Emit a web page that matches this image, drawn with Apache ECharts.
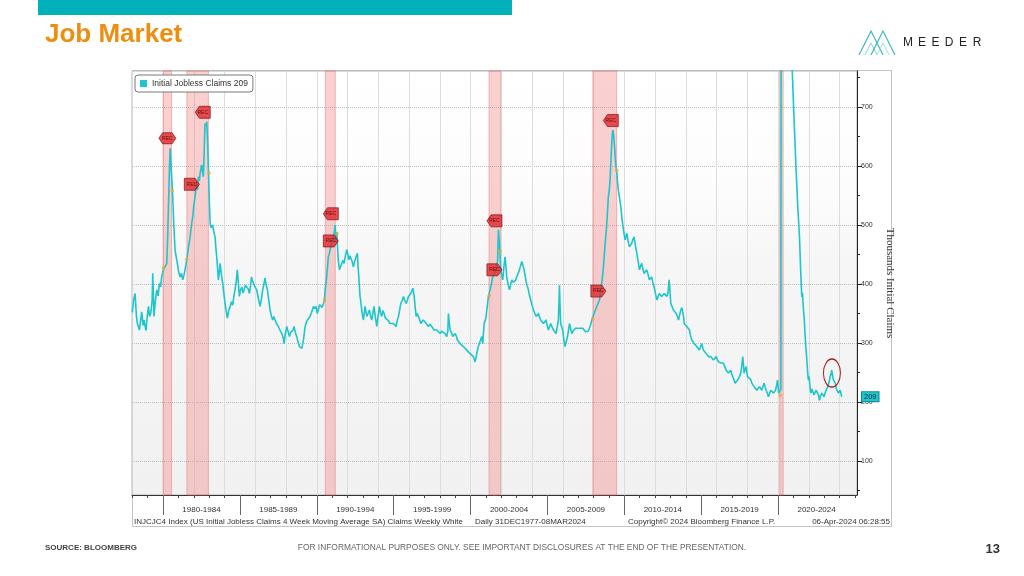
<!DOCTYPE html>
<html>
<head>
<meta charset="utf-8">
<script src="https://cdn.jsdelivr.net/npm/echarts@6/dist/echarts.min.js"></script>
<style>
html,body{margin:0;padding:0;background:#fff;}
#chart{width:1024px;height:576px;}
</style>
</head>
<body>
<div id="chart"></div>
<script>
// ---------------- DATA ----------------
const seriesName = 'Initial Jobless Claims 209';
const lastValue = 209;
// weekly 4-week moving average, thousands
const claimsSeries = [
[1978.00,352],[1978.08,372],[1978.18,384],[1978.27,345],[1978.33,333],[1978.46,322],[1978.55,340],[1978.61,353],[1978.70,330],[1978.76,339],[1978.89,321],[1978.97,345],
[1979.05,362],[1979.12,345],[1979.20,350],[1979.29,372],[1979.33,418],[1979.41,345],[1979.50,372],[1979.59,390],[1979.68,380],[1979.76,401],[1979.84,395],[1979.91,412],
[1980.02,424],[1980.13,421],[1980.24,435],[1980.30,480],[1980.35,531],[1980.42,600],[1980.46,630],[1980.52,600],[1980.61,559],[1980.70,500],[1980.78,458],[1980.86,445],[1980.93,435],
[1981.02,420],[1981.11,412],[1981.20,418],[1981.28,407],[1981.36,415],[1981.43,424],[1981.54,441],[1981.65,462],[1981.76,480],[1981.85,500],[1981.93,514],
[1982.01,535],[1982.08,548],[1982.13,560],[1982.19,571],[1982.25,560],[1982.30,582],[1982.36,575],[1982.41,588],[1982.47,596],[1982.51,602],[1982.57,590],[1982.62,582],[1982.68,630],[1982.73,672],[1982.79,668],[1982.84,675],[1982.90,640],[1982.95,593],
[1983.01,540],[1983.06,503],[1983.12,495],[1983.17,492],[1983.22,500],[1983.27,497],[1983.33,485],[1983.38,480],[1983.44,460],[1983.49,446],[1983.55,425],[1983.60,407],[1983.66,420],[1983.71,435],[1983.80,415],[1983.88,401],[1983.95,385],
[1984.03,367],[1984.10,355],[1984.18,342],[1984.27,355],[1984.36,362],[1984.45,370],[1984.53,364],[1984.60,378],[1984.68,390],[1984.76,405],[1984.83,424],[1984.90,400],[1984.96,379],
[1985.04,390],[1985.12,395],[1985.20,385],[1985.27,390],[1985.35,398],[1985.44,401],[1985.53,392],[1985.62,384],[1985.69,398],[1985.75,412],[1985.82,405],[1985.88,401],[1985.98,395],
[1986.09,390],[1986.20,375],[1986.31,362],[1986.40,375],[1986.48,390],[1986.56,400],[1986.63,410],[1986.71,398],[1986.79,390],[1986.88,372],[1986.96,356],
[1987.05,345],[1987.13,339],[1987.20,345],[1987.28,339],[1987.40,332],[1987.50,328],[1987.60,322],[1987.72,316],[1987.80,310],[1987.87,299],[1987.95,315],
[1988.04,328],[1988.13,320],[1988.22,311],[1988.30,318],[1988.37,316],[1988.45,322],[1988.52,328],[1988.60,318],[1988.69,311],[1988.78,302],[1988.87,294],[1988.95,292],
[1989.02,291],[1989.08,298],[1989.13,305],[1989.19,318],[1989.24,328],[1989.32,335],[1989.39,339],[1989.47,342],[1989.56,345],[1989.66,352],[1989.78,362],[1989.86,358],[1989.95,362],
[1990.03,350],[1990.10,356],[1990.18,365],[1990.25,362],[1990.34,360],[1990.43,367],[1990.49,372],[1990.54,390],[1990.59,400],[1990.64,412],[1990.70,430],[1990.75,446],[1990.80,450],[1990.86,458],[1990.92,465],[1990.97,469],
[1991.03,470],[1991.08,480],[1991.14,488],[1991.19,500],[1991.25,475],[1991.30,488],[1991.38,445],[1991.47,424],[1991.55,430],[1991.62,429],[1991.70,440],[1991.77,435],[1991.86,448],[1991.95,458],
[1992.02,450],[1992.08,441],[1992.15,448],[1992.21,446],[1992.30,438],[1992.38,429],[1992.46,438],[1992.55,446],[1992.60,448],[1992.64,452],[1992.68,430],[1992.73,412],[1992.77,395],[1992.81,379],[1992.87,368],[1992.92,356],[1992.98,345],
[1993.03,339],[1993.08,350],[1993.14,362],[1993.20,352],[1993.25,345],[1993.33,350],[1993.42,356],[1993.50,345],[1993.57,339],[1993.64,350],[1993.72,362],[1993.80,345],[1993.90,328],[1993.98,345],
[1994.07,362],[1994.15,350],[1994.22,345],[1994.30,355],[1994.37,350],[1994.46,342],[1994.55,345],[1994.65,338],[1994.76,333],[1994.87,336],[1994.98,333],
[1995.06,330],[1995.15,328],[1995.23,338],[1995.31,345],[1995.38,355],[1995.46,367],[1995.55,372],[1995.63,379],[1995.72,372],[1995.81,367],[1995.88,372],[1995.96,379],
[1996.04,376],[1996.11,384],[1996.18,388],[1996.24,393],[1996.30,385],[1996.33,379],[1996.40,360],[1996.46,345],[1996.53,350],[1996.61,345],[1996.68,340],[1996.76,333],[1996.85,336],[1996.93,339],
[1997.02,336],[1997.11,333],[1997.18,330],[1997.26,328],[1997.36,332],[1997.47,328],[1997.55,325],[1997.63,322],[1997.72,320],[1997.80,322],[1997.90,320],
[1998.02,316],[1998.12,320],[1998.23,322],[1998.34,316],[1998.45,311],[1998.52,320],[1998.56,350],[1998.61,335],[1998.67,322],[1998.75,318],[1998.84,311],[1998.92,314],[1998.99,316],
[1999.07,312],[1999.14,305],[1999.23,302],[1999.32,299],[1999.42,296],[1999.53,294],[1999.64,291],[1999.75,288],[1999.86,285],[1999.97,282],
[2000.08,280],[2000.18,277],[2000.24,272],[2000.29,268],[2000.35,275],[2000.40,282],[2000.48,292],[2000.57,299],[2000.65,305],[2000.73,311],[2000.79,299],[2000.84,318],[2000.88,333],[2000.95,338],
[2001.01,345],[2001.08,362],[2001.16,379],[2001.22,385],[2001.27,390],[2001.35,400],[2001.44,412],[2001.52,418],[2001.59,421],[2001.65,423],[2001.70,424],[2001.76,440],[2001.81,492],[2001.88,469],[2001.96,424],
[2002.03,415],[2002.09,407],[2002.17,430],[2002.24,446],[2002.30,430],[2002.35,412],[2002.45,398],[2002.53,390],[2002.60,398],[2002.68,407],[2002.76,403],[2002.83,401],[2002.92,406],
[2003.00,412],[2003.09,418],[2003.18,424],[2003.26,432],[2003.33,438],[2003.40,432],[2003.48,424],[2003.55,414],[2003.61,404],[2003.68,397],[2003.76,390],[2003.84,380],[2003.91,373],
[2004.00,364],[2004.09,356],[2004.18,350],[2004.26,345],[2004.33,348],[2004.41,350],[2004.48,344],[2004.56,339],[2004.65,336],[2004.74,333],[2004.83,336],[2004.91,339],[2004.98,330],
[2005.06,322],[2005.14,328],[2005.21,333],[2005.30,327],[2005.39,322],[2005.48,319],[2005.56,316],[2005.64,328],[2005.71,339],[2005.75,370],[2005.78,398],[2005.82,360],[2005.86,333],[2005.92,328],[2005.99,322],
[2006.07,305],[2006.14,294],[2006.22,302],[2006.30,311],[2006.37,322],[2006.43,333],[2006.50,325],[2006.58,316],[2006.66,320],[2006.73,322],[2006.82,325],[2006.90,328],[2006.99,325],
[2007.08,322],[2007.16,325],[2007.23,328],[2007.30,325],[2007.38,322],[2007.47,319],[2007.56,316],[2007.65,320],[2007.73,322],[2007.80,330],[2007.88,339],[2007.96,345],
[2008.03,350],[2008.12,356],[2008.21,362],[2008.30,368],[2008.38,373],[2008.46,388],[2008.53,401],[2008.59,415],[2008.64,429],[2008.70,450],[2008.75,469],[2008.81,485],[2008.86,503],[2008.91,525],[2008.96,548],
[2009.02,560],[2009.07,576],[2009.12,605],[2009.18,638],[2009.22,655],[2009.25,661],[2009.29,655],[2009.33,644],[2009.37,630],[2009.40,616],[2009.45,600],[2009.51,588],[2009.56,572],[2009.61,559],[2009.69,545],[2009.77,531],[2009.85,510],[2009.94,492],
[2010.00,482],[2010.05,475],[2010.10,480],[2010.16,486],[2010.25,472],[2010.33,463],[2010.40,466],[2010.48,469],[2010.55,475],[2010.63,480],[2010.72,465],[2010.81,452],[2010.90,438],[2010.98,424],
[2011.05,430],[2011.13,435],[2011.20,426],[2011.28,418],[2011.37,420],[2011.46,424],[2011.55,415],[2011.63,407],[2011.70,410],[2011.78,412],[2011.85,403],[2011.93,395],
[2012.02,384],[2012.11,373],[2012.20,379],[2012.28,384],[2012.35,382],[2012.43,379],[2012.51,382],[2012.59,384],[2012.68,381],[2012.76,379],[2012.84,385],[2012.91,407],[2012.96,390],
[2013.02,367],[2013.10,362],[2013.19,356],[2013.28,353],[2013.37,350],[2013.45,345],[2013.52,339],[2013.60,348],[2013.67,356],[2013.74,360],[2013.80,362],[2013.85,345],[2013.89,333],[2013.97,330],
[2014.06,328],[2014.15,325],[2014.23,322],[2014.31,312],[2014.39,305],[2014.47,302],[2014.54,299],[2014.62,297],[2014.71,294],[2014.80,291],[2014.88,288],[2014.96,294],
[2015.04,299],[2015.09,293],[2015.14,288],[2015.23,285],[2015.32,282],[2015.40,279],[2015.47,277],[2015.55,276],[2015.62,277],[2015.70,274],[2015.79,271],[2015.88,274],[2015.97,277],
[2016.05,272],[2016.12,268],[2016.20,267],[2016.27,266],[2016.35,268],[2016.44,266],[2016.53,260],[2016.62,254],[2016.70,251],[2016.77,249],[2016.85,252],[2016.92,254],[2016.98,248],
[2017.05,243],[2017.12,238],[2017.20,232],[2017.28,235],[2017.36,237],[2017.42,240],[2017.48,243],[2017.57,249],[2017.64,262],[2017.70,277],[2017.75,262],[2017.79,249],[2017.86,255],[2017.92,260],[2017.97,250],
[2018.01,243],[2018.08,244],[2018.14,243],[2018.22,238],[2018.29,232],[2018.37,229],[2018.44,226],[2018.52,223],[2018.61,220],[2018.70,223],[2018.79,226],[2018.86,223],[2018.94,220],
[2019.01,226],[2019.09,232],[2019.15,226],[2019.22,220],[2019.30,215],[2019.37,209],[2019.45,215],[2019.52,220],[2019.61,217],[2019.70,215],[2019.77,218],[2019.83,220],[2019.90,228],[2019.96,237],
[2020.00,226],[2020.04,215],[2020.09,213],[2020.13,212],[2020.18,222],[2020.20,1000],[2020.22,2650],[2020.24,4260],[2020.35,3500],[2020.45,2200],[2020.58,1450],[2020.72,1020],[2020.84,830],[2020.92,760],
[2021.05,670],[2021.17,593],[2021.28,530],[2021.39,480],[2021.47,420],[2021.54,378],[2021.58,385],[2021.65,356],[2021.70,340],[2021.76,310],[2021.81,290],[2021.87,271],[2021.92,250],[2021.97,237],
[2022.02,243],[2022.07,225],[2022.13,215],[2022.20,222],[2022.26,220],[2022.33,212],[2022.41,215],[2022.48,220],[2022.56,223],[2022.62,212],[2022.69,203],[2022.76,210],[2022.84,215],[2022.91,212],[2022.99,209],
[2023.05,215],[2023.12,220],[2023.20,224],[2023.27,226],[2023.33,235],[2023.38,243],[2023.44,248],[2023.49,254],[2023.55,243],[2023.60,237],[2023.66,240],[2023.71,232],[2023.77,225],[2023.82,220],[2023.88,217],[2023.93,215],[2023.98,218],
[2024.03,220],[2024.09,214],[2024.14,209],[2024.18,209]
];
// recessions (NBER) as fractional years
const recessionStart = [1980.00, 1981.55, 1990.55, 2001.20, 2007.95, 2020.10];
const recessionEnd   = [1980.55, 1982.95, 1991.20, 2001.95, 2009.50, 2020.33];
// recession start/end points on the line
const turnYears  = [1980.02, 1980.60, 1981.54, 1982.99, 1990.49, 1991.32, 2001.22, 2001.92, 2007.95, 2009.51, 2020.13];
const turnValues = [427, 558, 442, 588, 372, 485, 380, 455, 341, 593, 212];
// REC event flags
const recFlagYears  = [1980.28, 1982.58, 1981.87, 1990.91, 1990.91, 2001.55, 2001.55, 2009.12, 2008.31];
const recFlagValues = [647, 691, 569, 519, 473, 507, 424, 677, 388];
const recFlagDir    = ['both', 'left', 'right', 'left', 'right', 'left', 'right', 'left', 'right'];
// circled highlight (2023 bump)
const highlightYear = 2023.5;
const highlightValue = 249;
// axes
const xMin = 1977.98, xMax = 2025.13;
const yMin = 42.4, yMax = 761.0;
const gridYears = [1980,1982,1984,1986,1988,1990,1992,1994,1996,1998,2000,2002,2004,2006,2008,2010,2012,2014,2016,2018,2020,2022,2024];
const yearTicks = [1978,1979,1980,1981,1982,1983,1984,1985,1986,1987,1988,1989,1990,1991,1992,1993,1994,1995,1996,1997,1998,1999,2000,2001,2002,2003,2004,2005,2006,2007,2008,2009,2010,2011,2012,2013,2014,2015,2016,2017,2018,2019,2020,2021,2022,2023,2024,2025];
const periodStarts = [1980,1985,1990,1995,2000,2005,2010,2015,2020];
const periodLabels = ['1980-1984','1985-1989','1990-1994','1995-1999','2000-2004','2005-2009','2010-2014','2015-2019','2020-2024'];
const yMajor = [100,200,300,400,500,600,700];
const yMinor = [50,150,250,350,450,550,650,750];

// ---------------- CHART ----------------
const chart = echarts.init(document.getElementById('chart'), null, {renderer:'canvas'});
const teal = '#1cc6cc';
const F = 'Liberation Sans';

const pathLeft  = 'path://M0,6 L5,0 L18,0 L18,12 L5,12 Z';
const pathRight = 'path://M0,0 L13,0 L18,6 L13,12 L0,12 Z';
const pathBoth  = 'path://M0,6 L4,0 L14,0 L18,6 L14,12 L4,12 Z';
const flagData = recFlagYears.map((y,i)=>({
  value:[y, recFlagValues[i]],
  symbol: recFlagDir[i]==='left'?pathLeft:(recFlagDir[i]==='right'?pathRight:pathBoth),
  symbolSize: recFlagDir[i]==='both'?[17,11]:[15,12]
}));
const periodCenters = periodStarts.map(s=>s+2.5);

const logoColor = '#3cb9c0';
const option = {
  animation:false,
  backgroundColor:'#ffffff',
  textStyle:{fontFamily:F},
  grid:{left:132,right:167,top:71,bottom:81,show:true,borderColor:'#b5b5b5',borderWidth:1,
    backgroundColor:{type:'linear',x:0,y:0,x2:0,y2:1,colorStops:[{offset:0,color:'#ffffff'},{offset:0.3,color:'#fcfcfc'},{offset:0.45,color:'#f6f6f6'},{offset:1,color:'#f1f1f1'}]},
    outerBoundsMode:'none'},
  legend:{data:[seriesName],left:135,top:75,orient:'horizontal',icon:'rect',itemWidth:7,itemHeight:7,itemGap:4,
    borderColor:'#7a7a7a',borderWidth:1,borderRadius:3,padding:[4,5,4,5],backgroundColor:'#ffffff',
    textStyle:{fontFamily:F,fontSize:8.5,color:'#333'}},
  xAxis:[
    {type:'value',min:xMin,max:xMax,position:'bottom',
      axisLine:{show:true,lineStyle:{color:'#333',width:1}},
      axisTick:{show:false,customValues:gridYears},
      splitLine:{show:true,lineStyle:{color:'#dddddd',width:1}},
      axisLabel:{customValues:periodCenters,margin:11,fontSize:8,color:'#333',fontFamily:F,
        formatter:(v)=>{const i=periodCenters.findIndex(c=>Math.abs(c-v)<0.01);return i>=0?periodLabels[i]:'';}}},
    {type:'value',min:xMin,max:xMax,position:'bottom',
      axisLine:{show:false},axisTick:{show:true,customValues:yearTicks,length:3,lineStyle:{color:'#444'}},
      axisLabel:{show:false},splitLine:{show:false}},
    {type:'value',min:xMin,max:xMax,position:'bottom',
      axisLine:{show:false},axisTick:{show:true,customValues:periodStarts,length:20,lineStyle:{color:'#666'}},
      axisLabel:{show:false},splitLine:{show:false}}
  ],
  yAxis:[
    {type:'value',min:yMin,max:yMax,position:'right',
      axisLine:{show:true,lineStyle:{color:'#222',width:1}},
      axisTick:{show:true,customValues:yMajor,length:5,lineStyle:{color:'#222'}},
      axisLabel:{customValues:yMajor,margin:4,fontSize:7,color:'#333',fontFamily:F},
      splitLine:{show:true,lineStyle:{type:'dotted',color:'#bdbdbd',width:1}},
      name:'Thousands Initial Claims',nameLocation:'middle',nameRotate:-90,nameGap:27,
      nameTextStyle:{fontFamily:'Liberation Serif',fontSize:11,color:'#333'}},
    {type:'value',min:yMin,max:yMax,position:'right',
      axisLine:{show:false},
      axisTick:{show:true,customValues:yMinor,length:3,lineStyle:{color:'#222'}},
      axisLabel:{customValues:[lastValue],margin:5,fontSize:7.5,color:'#102040',fontFamily:F,
        backgroundColor:teal,borderColor:'#0c8a90',borderWidth:1,padding:[1,2,0,2],
        formatter:(v)=>String(Math.round(v))},
      splitLine:{show:false}}
  ],
  series:[
    {name:seriesName,type:'line',xAxisIndex:0,yAxisIndex:0,data:claimsSeries,showSymbol:false,symbol:'none',
      clip:true,z:3,
      itemStyle:{color:teal},lineStyle:{color:teal,width:1.6},
      markArea:{silent:true,
        itemStyle:{color:'rgba(242,125,125,0.36)',borderColor:'rgba(228,105,105,0.42)',borderWidth:1},
        data:recessionStart.map((s,i)=>[{xAxis:s},{xAxis:recessionEnd[i]}])},
      markPoint:{silent:true,symbol:'circle',
        data:[{coord:[highlightYear,highlightValue],symbolSize:[17,28],
          itemStyle:{color:'rgba(0,0,0,0)',borderColor:'#a31a1a',borderWidth:1.2},label:{show:false}}]}
    },
    {name:'turns',type:'scatter',xAxisIndex:0,yAxisIndex:0,z:4,symbolSize:3.5,
      itemStyle:{color:'#f0a830'},
      data:turnYears.map((y,i)=>[y,turnValues[i]])},
    {name:'REC',type:'scatter',xAxisIndex:0,yAxisIndex:0,z:5,
      itemStyle:{color:'#e5262a',borderColor:'#6a0c0c',borderWidth:0.8},
      label:{show:true,position:'inside',formatter:'REC',fontSize:5,color:'#3a0505',fontFamily:F},
      data:flagData}
  ],
  graphic:[
    {type:'rect',shape:{x:38,y:0,width:474,height:15},style:{fill:'#00b1ba'},silent:true},
    {type:'text',x:45,y:35,style:{text:'Job Market',font:'bold 26px "Liberation Sans"',fill:'#ee8e10',textVerticalAlign:'middle'},silent:true},
    // logo
    {type:'polyline',shape:{points:[[859,55],[871,31],[883,55]]},style:{stroke:logoColor,lineWidth:1.2,fill:null},silent:true},
    {type:'polyline',shape:{points:[[865,55],[871,43],[877,55]]},style:{stroke:'#7fd3d8',lineWidth:1,fill:null},silent:true},
    {type:'polyline',shape:{points:[[871,55],[883,31],[895,55]]},style:{stroke:logoColor,lineWidth:1.2,fill:null},silent:true},
    {type:'polyline',shape:{points:[[877,55],[883,43],[889,55]]},style:{stroke:'#9fdde0',lineWidth:1,fill:null},silent:true},
    {type:'text',x:908,y:43,style:{text:'M',font:'12px "Liberation Sans"',fill:'#222',textAlign:'center',textVerticalAlign:'middle'},silent:true},
    {type:'text',x:922,y:43,style:{text:'E',font:'12px "Liberation Sans"',fill:'#222',textAlign:'center',textVerticalAlign:'middle'},silent:true},
    {type:'text',x:935.5,y:43,style:{text:'E',font:'12px "Liberation Sans"',fill:'#222',textAlign:'center',textVerticalAlign:'middle'},silent:true},
    {type:'text',x:949,y:43,style:{text:'D',font:'12px "Liberation Sans"',fill:'#222',textAlign:'center',textVerticalAlign:'middle'},silent:true},
    {type:'text',x:963,y:43,style:{text:'E',font:'12px "Liberation Sans"',fill:'#222',textAlign:'center',textVerticalAlign:'middle'},silent:true},
    {type:'text',x:977,y:43,style:{text:'R',font:'12px "Liberation Sans"',fill:'#222',textAlign:'center',textVerticalAlign:'middle'},silent:true},
    // outer chart border
    {type:'rect',shape:{x:132.5,y:70.5,width:759,height:456},style:{fill:null,stroke:'#c4c4c4',lineWidth:1},silent:true,z:-1},
    // info line
    {type:'text',x:134,y:522,style:{text:'INJCJC4 Index (US Initial Jobless Claims 4 Week Moving Average SA) Claims Weekly White',font:'8px "Liberation Sans"',fill:'#333',textVerticalAlign:'middle'},silent:true},
    {type:'text',x:475,y:522,style:{text:'Daily 31DEC1977-08MAR2024',font:'8px "Liberation Sans"',fill:'#333',textVerticalAlign:'middle'},silent:true},
    {type:'text',x:628,y:522,style:{text:'Copyright\u00A9 2024 Bloomberg Finance L.P.',font:'8px "Liberation Sans"',fill:'#333',textVerticalAlign:'middle'},silent:true},
    {type:'text',x:890,y:522,style:{text:'06-Apr-2024 06:28:55',font:'8px "Liberation Sans"',fill:'#333',textAlign:'right',textVerticalAlign:'middle'},silent:true},
    // footer
    {type:'text',x:45,y:548,style:{text:'SOURCE: BLOOMBERG',font:'bold 8px "Liberation Sans"',fill:'#444',textVerticalAlign:'middle'},silent:true},
    {type:'text',x:522,y:548,style:{text:'FOR INFORMATIONAL PURPOSES ONLY. SEE IMPORTANT DISCLOSURES AT THE END OF THE PRESENTATION.',font:'8.4px "Liberation Sans"',fill:'#666',textAlign:'center',textVerticalAlign:'middle'},silent:true},
    {type:'text',x:1000,y:549,style:{text:'13',font:'bold 13px "Liberation Sans"',fill:'#333',textAlign:'right',textVerticalAlign:'middle'},silent:true}
  ]
};
chart.setOption(option);
</script>
</body>
</html>
